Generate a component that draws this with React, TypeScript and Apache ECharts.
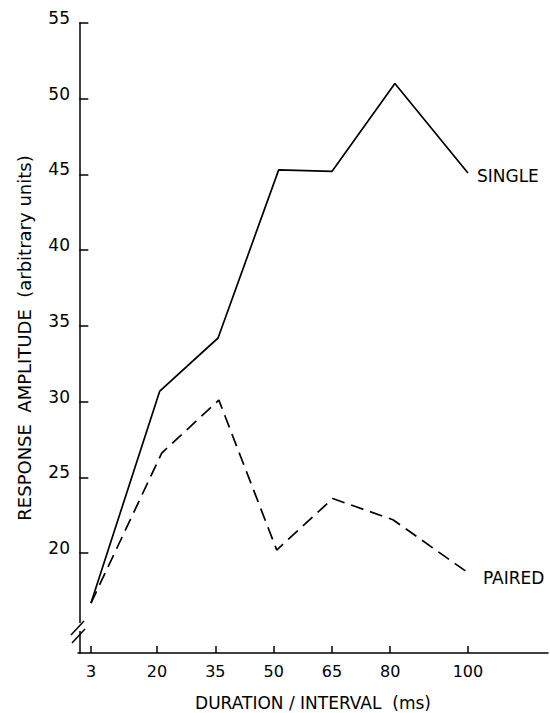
import React, { useEffect, useRef } from "react";
import * as echarts from "echarts";

const xTicks = [3, 20, 35, 50, 65, 80, 100];
const yTicks = [20, 25, 30, 35, 40, 45, 50, 55];
const singleX = [3, 20.7, 35.7, 51.3, 65, 81.2, 100];
const singleY = [16.7, 30.7, 34.2, 45.3, 45.2, 51.0, 45.1];
const pairedX = [3, 21.2, 35.9, 50.8, 65.2, 80.7, 100];
const pairedY = [16.7, 26.6, 30.1, 20.2, 23.6, 22.2, 18.7];

const FONT = "DejaVu Sans";

export default function App() {
  const ref = useRef<HTMLDivElement>(null);
  useEffect(() => {
    if (!ref.current) return;
    const chart = echarts.init(ref.current, null, { renderer: "svg" });
    const pair = (xs: number[], ys: number[]) => xs.map((x, i) => [x, ys[i]]);
    chart.setOption({
      animation: false,
      backgroundColor: "#fff",
      grid: { left: 78, right: 2, top: 23, bottom: 60, containLabel: false, outerBoundsMode: "none" },
      xAxis: {
        type: "value",
        min: -0.34,
        max: 120.6,
        name: "DURATION / INTERVAL  (ms)",
        nameLocation: "middle",
        nameGap: 41,
        nameTextStyle: { fontFamily: FONT, fontSize: 17, color: "#000", lineHeight: 17 },
        axisLine: { show: true, lineStyle: { color: "#000", width: 1.5 } },
        axisTick: { show: true, inside: true, length: 7, customValues: xTicks, lineStyle: { color: "#000", width: 1.5 } },
        axisLabel: { customValues: xTicks, fontFamily: FONT, fontSize: 16, color: "#000", margin: 10 },
        splitLine: { show: false },
      },
      yAxis: {
        type: "value",
        min: 13.4,
        max: 55,
        name: "RESPONSE  AMPLITUDE  (arbitrary units)",
        nameLocation: "middle",
        nameGap: 45,
        nameTextStyle: { fontFamily: FONT, fontSize: 18, color: "#000" },
        axisLine: { show: true, lineStyle: { color: "#000", width: 1.5 } },
        axisTick: { show: true, inside: true, length: 9, customValues: yTicks, lineStyle: { color: "#000", width: 1.5 } },
        axisLabel: { customValues: yTicks, fontFamily: FONT, fontSize: 17, color: "#000", margin: 8, verticalAlign: "bottom", lineHeight: 10 },
        splitLine: { show: false },
      },
      series: [
        {
          name: "SINGLE",
          type: "line",
          data: pair(singleX, singleY),
          showSymbol: false,
          symbol: "none",
          lineStyle: { color: "#000", width: 1.7 },
          endLabel: { show: true, formatter: "{a}", distance: 9, offset: [0, 3], fontFamily: FONT, fontSize: 17, color: "#000" },
        },
        {
          name: "PAIRED",
          type: "line",
          data: pair(pairedX, pairedY),
          showSymbol: false,
          symbol: "none",
          lineStyle: { color: "#000", width: 1.7, type: [13, 7] },
          endLabel: { show: true, formatter: "{a}", distance: 15, offset: [0, 5], fontFamily: FONT, fontSize: 17, color: "#000" },
        },
      ],
      graphic: [
        { type: "rect", shape: { x: 72, y: 623, width: 12, height: 8 }, style: { fill: "#fff" }, z: 100 },
        { type: "line", shape: { x1: 71, y1: 635, x2: 84, y2: 621 }, style: { stroke: "#000", lineWidth: 1.5 }, z: 101 },
        { type: "line", shape: { x1: 72, y1: 643, x2: 85, y2: 629 }, style: { stroke: "#000", lineWidth: 1.5 }, z: 101 },
      ],
    });
    return () => chart.dispose();
  }, []);
  return <div ref={ref} style={{ position: "fixed", left: 0, top: 0, width: 550, height: 713 }} />;
}
